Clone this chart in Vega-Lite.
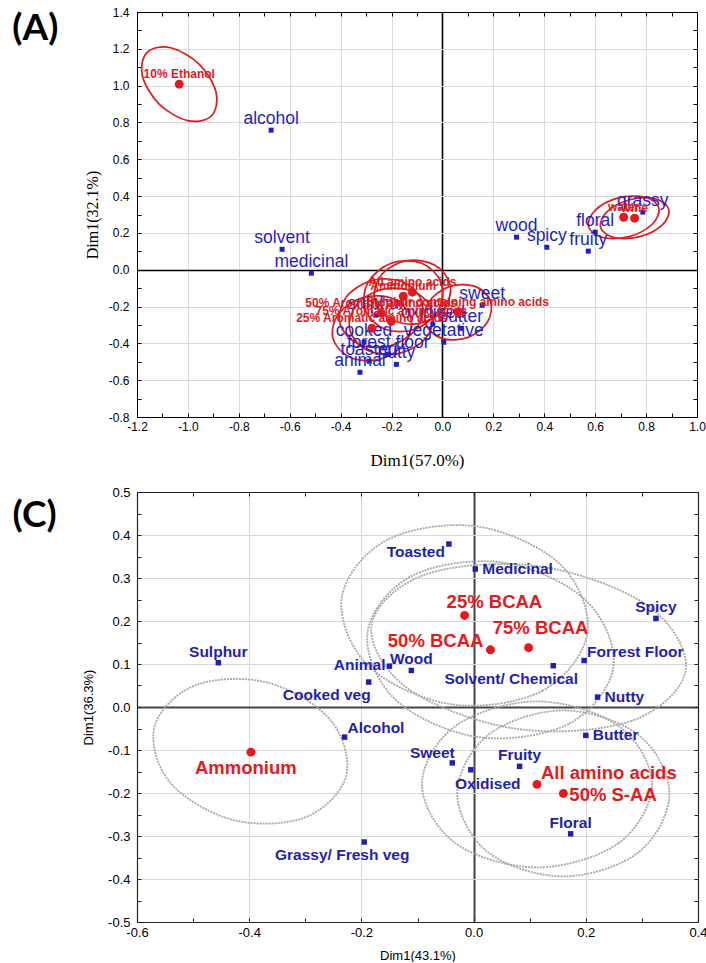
{
  "$schema": "https://vega.github.io/schema/vega-lite/v6.json",
  "background": "white",
  "padding": {"left": 12, "top": 6, "right": 0, "bottom": 0},
  "config": {"view": {"stroke": null}, "font": "Liberation Sans"},
  "datasets": {
    "attrA": [
      {"name": "alcohol", "x": -0.673, "y": 0.758},
      {"name": "solvent", "x": -0.630, "y": 0.111},
      {"name": "medicinal", "x": -0.515, "y": -0.019},
      {"name": "wood", "x": 0.291, "y": 0.177},
      {"name": "spicy", "x": 0.410, "y": 0.122},
      {"name": "fruity", "x": 0.573, "y": 0.101},
      {"name": "floral", "x": 0.600, "y": 0.204},
      {"name": "grassy", "x": 0.787, "y": 0.313},
      {"name": "sweet", "x": 0.156, "y": -0.193},
      {"name": "butter", "x": 0.072, "y": -0.318},
      {"name": "oxidised", "x": -0.038, "y": -0.296},
      {"name": "sulphur", "x": -0.261, "y": -0.247},
      {"name": "cooked", "x": -0.308, "y": -0.394},
      {"name": "vegetative", "x": 0.005, "y": -0.394},
      {"name": "forest floor", "x": -0.213, "y": -0.459},
      {"name": "toasted", "x": -0.288, "y": -0.497},
      {"name": "nutty", "x": -0.181, "y": -0.514},
      {"name": "animal", "x": -0.324, "y": -0.557}
    ],
    "trtA": [
      {"name": "10% Ethanol", "x": -1.034, "y": 1.008},
      {"name": "water", "x": 0.712, "y": 0.285},
      {"name": "wine", "x": 0.755, "y": 0.280},
      {"name": "All amino acids", "x": -0.118, "y": -0.122},
      {"name": "Ammonium", "x": -0.154, "y": -0.144},
      {"name": "50% Aromatic amino acids", "x": -0.241, "y": -0.236},
      {"name": "75% Aromatic amino acids", "x": -0.201, "y": -0.280},
      {"name": "25% Aromatic amino acids", "x": -0.277, "y": -0.318},
      {"name": "Sulphur containing amino acids", "x": 0.061, "y": -0.231}
    ],
    "ellA": [
      {"g": "10% Ethanol", "i": 1, "x": -0.908, "y": 0.835},
      {"g": "10% Ethanol", "i": 2, "x": -1.001, "y": 0.810},
      {"g": "10% Ethanol", "i": 3, "x": -1.113, "y": 0.900},
      {"g": "10% Ethanol", "i": 4, "x": -1.179, "y": 1.054},
      {"g": "10% Ethanol", "i": 5, "x": -1.160, "y": 1.181},
      {"g": "10% Ethanol", "i": 6, "x": -1.068, "y": 1.206},
      {"g": "10% Ethanol", "i": 7, "x": -0.955, "y": 1.116},
      {"g": "10% Ethanol", "i": 8, "x": -0.889, "y": 0.962},
      {"g": "water", "i": 1, "x": 0.850, "y": 0.336},
      {"g": "water", "i": 2, "x": 0.824, "y": 0.247},
      {"g": "water", "i": 3, "x": 0.733, "y": 0.180},
      {"g": "water", "i": 4, "x": 0.629, "y": 0.175},
      {"g": "water", "i": 5, "x": 0.574, "y": 0.234},
      {"g": "water", "i": 6, "x": 0.600, "y": 0.323},
      {"g": "water", "i": 7, "x": 0.691, "y": 0.390},
      {"g": "water", "i": 8, "x": 0.795, "y": 0.395},
      {"g": "wine", "i": 1, "x": 0.889, "y": 0.329},
      {"g": "wine", "i": 2, "x": 0.864, "y": 0.244},
      {"g": "wine", "i": 3, "x": 0.775, "y": 0.180},
      {"g": "wine", "i": 4, "x": 0.674, "y": 0.175},
      {"g": "wine", "i": 5, "x": 0.621, "y": 0.231},
      {"g": "wine", "i": 6, "x": 0.647, "y": 0.316},
      {"g": "wine", "i": 7, "x": 0.736, "y": 0.380},
      {"g": "wine", "i": 8, "x": 0.836, "y": 0.385},
      {"g": "Ammonium", "i": 1, "x": -0.005, "y": -0.070},
      {"g": "Ammonium", "i": 2, "x": -0.015, "y": -0.218},
      {"g": "Ammonium", "i": 3, "x": -0.107, "y": -0.323},
      {"g": "Ammonium", "i": 4, "x": -0.226, "y": -0.323},
      {"g": "Ammonium", "i": 5, "x": -0.303, "y": -0.219},
      {"g": "Ammonium", "i": 6, "x": -0.293, "y": -0.070},
      {"g": "Ammonium", "i": 7, "x": -0.202, "y": 0.035},
      {"g": "Ammonium", "i": 8, "x": -0.082, "y": 0.035},
      {"g": "All amino acids", "i": 1, "x": 0.031, "y": -0.086},
      {"g": "All amino acids", "i": 2, "x": 0.003, "y": -0.218},
      {"g": "All amino acids", "i": 3, "x": -0.096, "y": -0.293},
      {"g": "All amino acids", "i": 4, "x": -0.207, "y": -0.268},
      {"g": "All amino acids", "i": 5, "x": -0.267, "y": -0.158},
      {"g": "All amino acids", "i": 6, "x": -0.239, "y": -0.026},
      {"g": "All amino acids", "i": 7, "x": -0.140, "y": 0.049},
      {"g": "All amino acids", "i": 8, "x": -0.029, "y": 0.024},
      {"g": "50% Aromatic", "i": 1, "x": -0.080, "y": -0.177},
      {"g": "50% Aromatic", "i": 2, "x": -0.103, "y": -0.320},
      {"g": "50% Aromatic", "i": 3, "x": -0.206, "y": -0.414},
      {"g": "50% Aromatic", "i": 4, "x": -0.330, "y": -0.404},
      {"g": "50% Aromatic", "i": 5, "x": -0.402, "y": -0.295},
      {"g": "50% Aromatic", "i": 6, "x": -0.380, "y": -0.152},
      {"g": "50% Aromatic", "i": 7, "x": -0.276, "y": -0.058},
      {"g": "50% Aromatic", "i": 8, "x": -0.152, "y": -0.068},
      {"g": "75% Aromatic", "i": 1, "x": -0.037, "y": -0.240},
      {"g": "75% Aromatic", "i": 2, "x": -0.069, "y": -0.377},
      {"g": "75% Aromatic", "i": 3, "x": -0.178, "y": -0.457},
      {"g": "75% Aromatic", "i": 4, "x": -0.301, "y": -0.433},
      {"g": "75% Aromatic", "i": 5, "x": -0.365, "y": -0.320},
      {"g": "75% Aromatic", "i": 6, "x": -0.333, "y": -0.183},
      {"g": "75% Aromatic", "i": 7, "x": -0.224, "y": -0.103},
      {"g": "75% Aromatic", "i": 8, "x": -0.101, "y": -0.127},
      {"g": "25% Aromatic", "i": 1, "x": -0.124, "y": -0.262},
      {"g": "25% Aromatic", "i": 2, "x": -0.146, "y": -0.397},
      {"g": "25% Aromatic", "i": 3, "x": -0.244, "y": -0.486},
      {"g": "25% Aromatic", "i": 4, "x": -0.362, "y": -0.477},
      {"g": "25% Aromatic", "i": 5, "x": -0.430, "y": -0.374},
      {"g": "25% Aromatic", "i": 6, "x": -0.408, "y": -0.239},
      {"g": "25% Aromatic", "i": 7, "x": -0.310, "y": -0.150},
      {"g": "25% Aromatic", "i": 8, "x": -0.192, "y": -0.159},
      {"g": "Sulphur containing", "i": 1, "x": 0.188, "y": -0.168},
      {"g": "Sulphur containing", "i": 2, "x": 0.177, "y": -0.284},
      {"g": "Sulphur containing", "i": 3, "x": 0.098, "y": -0.369},
      {"g": "Sulphur containing", "i": 4, "x": -0.003, "y": -0.373},
      {"g": "Sulphur containing", "i": 5, "x": -0.066, "y": -0.294},
      {"g": "Sulphur containing", "i": 6, "x": -0.055, "y": -0.178},
      {"g": "Sulphur containing", "i": 7, "x": 0.024, "y": -0.093},
      {"g": "Sulphur containing", "i": 8, "x": 0.125, "y": -0.089}
    ],
    "attrC": [
      {"name": "Toasted", "x": -0.044, "y": 0.379},
      {"name": "Medicinal", "x": 0.003, "y": 0.321},
      {"name": "Spicy", "x": 0.325, "y": 0.206},
      {"name": "Sulphur", "x": -0.455, "y": 0.103},
      {"name": "Animal", "x": -0.150, "y": 0.095},
      {"name": "Wood", "x": -0.111, "y": 0.085},
      {"name": "Solvent/ Chemical", "x": 0.142, "y": 0.096},
      {"name": "Forrest Floor", "x": 0.197, "y": 0.108},
      {"name": "Cooked veg", "x": -0.187, "y": 0.058},
      {"name": "Nutty", "x": 0.221, "y": 0.023},
      {"name": "Alcohol", "x": -0.230, "y": -0.070},
      {"name": "Butter", "x": 0.200, "y": -0.066},
      {"name": "Sweet", "x": -0.038, "y": -0.130},
      {"name": "Fruity", "x": 0.082, "y": -0.138},
      {"name": "Oxidised", "x": -0.005, "y": -0.146},
      {"name": "Floral", "x": 0.173, "y": -0.295},
      {"name": "Grassy/ Fresh veg", "x": -0.195, "y": -0.314}
    ],
    "trtC": [
      {"name": "25% BCAA", "x": -0.016, "y": 0.213},
      {"name": "50% BCAA", "x": 0.030, "y": 0.133},
      {"name": "75% BCAA", "x": 0.098, "y": 0.138},
      {"name": "Ammonium", "x": -0.397, "y": -0.105},
      {"name": "All amino acids", "x": 0.113, "y": -0.180},
      {"name": "50% S-AA", "x": 0.160, "y": -0.201}
    ],
    "ellC": [
      {"g": "Ammonium", "i": 1, "x": -0.227, "y": -0.159},
      {"g": "Ammonium", "i": 2, "x": -0.299, "y": -0.256},
      {"g": "Ammonium", "i": 3, "x": -0.428, "y": -0.263},
      {"g": "Ammonium", "i": 4, "x": -0.540, "y": -0.177},
      {"g": "Ammonium", "i": 5, "x": -0.569, "y": -0.047},
      {"g": "Ammonium", "i": 6, "x": -0.497, "y": 0.050},
      {"g": "Ammonium", "i": 7, "x": -0.368, "y": 0.057},
      {"g": "Ammonium", "i": 8, "x": -0.256, "y": -0.029},
      {"g": "25% BCAA", "i": 1, "x": 0.203, "y": 0.173},
      {"g": "25% BCAA", "i": 2, "x": 0.123, "y": 0.038},
      {"g": "25% BCAA", "i": 3, "x": -0.038, "y": 0.006},
      {"g": "25% BCAA", "i": 4, "x": -0.187, "y": 0.095},
      {"g": "25% BCAA", "i": 5, "x": -0.235, "y": 0.254},
      {"g": "25% BCAA", "i": 6, "x": -0.155, "y": 0.388},
      {"g": "25% BCAA", "i": 7, "x": 0.006, "y": 0.420},
      {"g": "25% BCAA", "i": 8, "x": 0.155, "y": 0.331},
      {"g": "50% BCAA", "i": 1, "x": 0.249, "y": 0.093},
      {"g": "50% BCAA", "i": 2, "x": 0.170, "y": -0.039},
      {"g": "50% BCAA", "i": 3, "x": 0.008, "y": -0.070},
      {"g": "50% BCAA", "i": 4, "x": -0.140, "y": 0.018},
      {"g": "50% BCAA", "i": 5, "x": -0.189, "y": 0.174},
      {"g": "50% BCAA", "i": 6, "x": -0.110, "y": 0.305},
      {"g": "50% BCAA", "i": 7, "x": 0.052, "y": 0.336},
      {"g": "50% BCAA", "i": 8, "x": 0.200, "y": 0.248},
      {"g": "75% BCAA", "i": 1, "x": 0.378, "y": 0.086},
      {"g": "75% BCAA", "i": 2, "x": 0.282, "y": -0.032},
      {"g": "75% BCAA", "i": 3, "x": 0.078, "y": -0.051},
      {"g": "75% BCAA", "i": 4, "x": -0.115, "y": 0.041},
      {"g": "75% BCAA", "i": 5, "x": -0.182, "y": 0.190},
      {"g": "75% BCAA", "i": 6, "x": -0.086, "y": 0.308},
      {"g": "75% BCAA", "i": 7, "x": 0.118, "y": 0.327},
      {"g": "75% BCAA", "i": 8, "x": 0.311, "y": 0.235},
      {"g": "All amino acids", "i": 1, "x": 0.318, "y": -0.180},
      {"g": "All amino acids", "i": 2, "x": 0.258, "y": -0.317},
      {"g": "All amino acids", "i": 3, "x": 0.113, "y": -0.373},
      {"g": "All amino acids", "i": 4, "x": -0.032, "y": -0.317},
      {"g": "All amino acids", "i": 5, "x": -0.092, "y": -0.180},
      {"g": "All amino acids", "i": 6, "x": -0.032, "y": -0.044},
      {"g": "All amino acids", "i": 7, "x": 0.113, "y": 0.013},
      {"g": "All amino acids", "i": 8, "x": 0.258, "y": -0.044},
      {"g": "50% S-AA", "i": 1, "x": 0.349, "y": -0.201},
      {"g": "50% S-AA", "i": 2, "x": 0.294, "y": -0.338},
      {"g": "50% S-AA", "i": 3, "x": 0.160, "y": -0.394},
      {"g": "50% S-AA", "i": 4, "x": 0.026, "y": -0.338},
      {"g": "50% S-AA", "i": 5, "x": -0.029, "y": -0.201},
      {"g": "50% S-AA", "i": 6, "x": 0.026, "y": -0.065},
      {"g": "50% S-AA", "i": 7, "x": 0.160, "y": -0.008},
      {"g": "50% S-AA", "i": 8, "x": 0.294, "y": -0.065}
    ]
  },
  "columns": 1,
  "align": "none",
  "spacing": 18,
  "concat": [
    {
      "width": 560,
      "height": 405,
      "title": {"text": "(A)", "orient": "left", "anchor": "end", "angle": 0, "baseline": "top", "align": "right", "font": "Lato", "fontSize": 37, "fontWeight": "bold", "color": "#000", "offset": -20, "dy": 5},
      "resolve": {"axis": {"x": "independent", "y": "independent"}},
      "layer": [
        {
          "data": {"name": "ellA"},
          "mark": {"type": "line", "interpolate": "cardinal-closed", "color": "#e3191c", "strokeWidth": 1.7},
          "encoding": {
            "x": {"field": "x", "type": "quantitative", "scale": {"domain": [-1.2, 1.0], "nice": false, "zero": false},
              "axis": {"orient": "bottom", "values": [-1.2, -1.1, -1.0, -0.9, -0.8, -0.7, -0.6, -0.5, -0.4, -0.3, -0.2, -0.1, 0, 0.1, 0.2, 0.3, 0.4, 0.5, 0.6, 0.7, 0.8, 0.9, 1.0],
                "labelExpr": "round(datum.value*10) % 2 == 0 ? replace(format(datum.value, '.1f'), '\u2212', '-') : ''",
                "labelOverlap": false, "labelFlush": false, "labelFont": "Liberation Sans", "labelFontSize": 12, "labelColor": "#000", "labelPadding": 8,
                "tickSize": -4, "tickColor": "#000", "domainColor": "#000", "domainWidth": 1,
                "grid": true,
                "gridColor": {"condition": {"test": "abs(datum.value) < 0.001", "value": "#000000"}, "value": "#dadada"},
                "gridWidth": {"condition": {"test": "abs(datum.value) < 0.001", "value": 1.6}, "value": 1},
                "gridOpacity": {"condition": {"test": "round(datum.value*10) % 2 != 0", "value": 0}, "value": 1},
                "title": "Dim1(57.0%)", "titleFont": "Liberation Serif", "titleFontSize": 17, "titleFontWeight": "normal", "titleColor": "#000", "titlePadding": 20}},
            "y": {"field": "y", "type": "quantitative", "scale": {"domain": [-0.8, 1.4], "nice": false, "zero": false},
              "axis": {"orient": "left", "values": [-0.8, -0.7, -0.6, -0.5, -0.4, -0.3, -0.2, -0.1, 0, 0.1, 0.2, 0.3, 0.4, 0.5, 0.6, 0.7, 0.8, 0.9, 1.0, 1.1, 1.2, 1.3, 1.4],
                "labelExpr": "round(datum.value*10) % 2 == 0 ? replace(format(datum.value, '.1f'), '\u2212', '-') : ''",
                "labelOverlap": false, "labelFlush": false, "labelFont": "Liberation Sans", "labelFontSize": 12, "labelColor": "#000", "labelPadding": 12,
                "tickSize": -4, "tickColor": "#000", "domainColor": "#000", "domainWidth": 1,
                "grid": true,
                "gridColor": {"condition": {"test": "abs(datum.value) < 0.001", "value": "#000000"}, "value": "#dadada"},
                "gridWidth": {"condition": {"test": "abs(datum.value) < 0.001", "value": 1.6}, "value": 1},
                "gridOpacity": {"condition": {"test": "round(datum.value*10) % 2 != 0", "value": 0}, "value": 1},
                "title": "Dim1(32.1%)", "titleFont": "Liberation Serif", "titleFontSize": 16, "titleFontWeight": "normal", "titleColor": "#000", "titlePadding": 8}},
            "detail": {"field": "g"},
            "order": {"field": "i", "type": "quantitative"}
          }
        },
        {
          "data": {"name": "attrA"},
          "mark": {"type": "square", "size": 25, "color": "#1f1fc8", "opacity": 1},
          "encoding": {
            "x": {"field": "x", "type": "quantitative",
              "axis": {"orient": "top", "values": [-1.2, -1.1, -1.0, -0.9, -0.8, -0.7, -0.6, -0.5, -0.4, -0.3, -0.2, -0.1, 0, 0.1, 0.2, 0.3, 0.4, 0.5, 0.6, 0.7, 0.8, 0.9, 1.0], "labels": false, "title": null, "grid": false, "tickSize": -4, "tickColor": "#000", "domainColor": "#000", "domainWidth": 1}},
            "y": {"field": "y", "type": "quantitative",
              "axis": {"orient": "right", "values": [-0.8, -0.7, -0.6, -0.5, -0.4, -0.3, -0.2, -0.1, 0, 0.1, 0.2, 0.3, 0.4, 0.5, 0.6, 0.7, 0.8, 0.9, 1.0, 1.1, 1.2, 1.3, 1.4], "labels": false, "title": null, "grid": false, "tickSize": -4, "tickColor": "#000", "domainColor": "#000", "domainWidth": 1}}
          }
        },
        {
          "data": {"name": "attrA"},
          "mark": {"type": "text", "font": "Liberation Sans", "fontSize": 17.5, "color": "#1f1fc8", "align": "center", "dy": -11},
          "encoding": {
            "x": {"field": "x", "type": "quantitative", "axis": null},
            "y": {"field": "y", "type": "quantitative", "axis": null},
            "text": {"field": "name"}
          }
        },
        {
          "data": {"name": "trtA"},
          "mark": {"type": "circle", "size": 80, "color": "#e3191c", "opacity": 1},
          "encoding": {
            "x": {"field": "x", "type": "quantitative", "axis": null},
            "y": {"field": "y", "type": "quantitative", "axis": null}
          }
        },
        {
          "data": {"name": "trtA"},
          "mark": {"type": "text", "font": "Liberation Sans", "fontSize": 12, "fontWeight": "bold", "color": "#e3191c", "align": "center", "dy": -10},
          "encoding": {
            "x": {"field": "x", "type": "quantitative", "axis": null},
            "y": {"field": "y", "type": "quantitative", "axis": null},
            "text": {"field": "name"}
          }
        }
      ]
    },
    {
      "width": 561,
      "height": 430,
      "title": {"text": "(C)", "orient": "left", "anchor": "end", "angle": 0, "baseline": "top", "align": "right", "font": "Lato", "fontSize": 37, "fontWeight": "bold", "color": "#000", "offset": -18, "dy": 12},
      "resolve": {"axis": {"x": "independent", "y": "independent"}},
      "layer": [
        {
          "data": {"name": "ellC"},
          "mark": {"type": "line", "interpolate": "cardinal-closed", "color": "#a8a8a8", "strokeWidth": 1.8, "strokeDash": [2, 1]},
          "encoding": {
            "x": {"field": "x", "type": "quantitative", "scale": {"domain": [-0.6, 0.4], "nice": false, "zero": false},
              "axis": {"orient": "bottom", "values": [-0.6, -0.5, -0.4, -0.3, -0.2, -0.1, 0, 0.1, 0.2, 0.3, 0.4],
                "labelExpr": "round(datum.value*10) % 2 == 0 ? replace(format(datum.value, '.1f'), '\u2212', '-') : ''",
                "labelOverlap": false, "labelFlush": false, "labelFont": "Liberation Sans", "labelFontSize": 13, "labelColor": "#000", "labelPadding": 8,
                "tickSize": -4, "tickColor": "#222", "domainColor": "#222", "domainWidth": 1.2,
                "grid": true,
                "gridColor": {"condition": {"test": "abs(datum.value) < 0.001", "value": "#444444"}, "value": "#d8d8d8"},
                "gridWidth": {"condition": {"test": "abs(datum.value) < 0.001", "value": 2}, "value": 1},
                "gridOpacity": {"condition": {"test": "round(datum.value*10) % 2 != 0", "value": 0}, "value": 1},
                "title": "Dim1(43.1%)", "titleFont": "Liberation Sans", "titleFontSize": 13, "titleFontWeight": "normal", "titleColor": "#000", "titlePadding": 10}},
            "y": {"field": "y", "type": "quantitative", "scale": {"domain": [-0.5, 0.5], "nice": false, "zero": false},
              "axis": {"orient": "left", "values": [-0.5, -0.45, -0.4, -0.35, -0.3, -0.25, -0.2, -0.15, -0.1, -0.05, 0, 0.05, 0.1, 0.15, 0.2, 0.25, 0.3, 0.35, 0.4, 0.45, 0.5],
                "labelExpr": "round(datum.value*20) % 2 == 0 ? replace(format(datum.value, '.1f'), '\u2212', '-') : ''",
                "labelOverlap": false, "labelFlush": false, "labelFont": "Liberation Sans", "labelFontSize": 13, "labelColor": "#000", "labelPadding": 11,
                "tickSize": -4, "tickColor": "#222", "domainColor": "#222", "domainWidth": 1.2,
                "grid": true,
                "gridColor": {"condition": {"test": "abs(datum.value) < 0.001", "value": "#444444"}, "value": "#d8d8d8"},
                "gridWidth": {"condition": {"test": "abs(datum.value) < 0.001", "value": 2}, "value": 1},
                "gridOpacity": {"condition": {"test": "round(datum.value*20) % 2 != 0", "value": 0}, "value": 1},
                "title": "Dim1(36.3%)", "titleFont": "Liberation Sans", "titleFontSize": 13, "titleFontWeight": "normal", "titleColor": "#000", "titlePadding": 12}},
            "detail": {"field": "g"},
            "order": {"field": "i", "type": "quantitative"}
          }
        },
        {
          "data": {"name": "attrC"},
          "mark": {"type": "square", "size": 30, "color": "#1f1fb4", "opacity": 1},
          "encoding": {
            "x": {"field": "x", "type": "quantitative",
              "axis": {"orient": "top", "values": [-0.6, -0.5, -0.4, -0.3, -0.2, -0.1, 0, 0.1, 0.2, 0.3, 0.4], "labels": false, "title": null, "grid": false, "tickSize": -4, "tickColor": "#222", "domainColor": "#222", "domainWidth": 1.2}},
            "y": {"field": "y", "type": "quantitative",
              "axis": {"orient": "right", "values": [-0.5, -0.45, -0.4, -0.35, -0.3, -0.25, -0.2, -0.15, -0.1, -0.05, 0, 0.05, 0.1, 0.15, 0.2, 0.25, 0.3, 0.35, 0.4, 0.45, 0.5], "labels": false, "title": null, "grid": false, "tickSize": -4, "tickColor": "#222", "domainColor": "#222", "domainWidth": 1.2}}
          }
        },
        {
          "data": {"name": "attrC"},
          "transform": [{"filter": {"field": "name", "oneOf": ["Spicy", "Sulphur", "Wood", "Fruity", "Floral"]}}],
          "mark": {"type": "text", "font": "Liberation Sans", "fontSize": 15.5, "fontWeight": "bold", "color": "#1f1fb4", "align": "center", "dy": -11},
          "encoding": {"x": {"field": "x", "type": "quantitative", "axis": null}, "y": {"field": "y", "type": "quantitative", "axis": null}, "text": {"field": "name"}}
        },
        {
          "data": {"name": "attrC"},
          "transform": [{"filter": {"field": "name", "oneOf": ["Medicinal", "Nutty", "Butter"]}}],
          "mark": {"type": "text", "font": "Liberation Sans", "fontSize": 15.5, "fontWeight": "bold", "color": "#1f1fb4", "align": "left", "dx": 7, "dy": 0},
          "encoding": {"x": {"field": "x", "type": "quantitative", "axis": null}, "y": {"field": "y", "type": "quantitative", "axis": null}, "text": {"field": "name"}}
        },
        {
          "data": {"name": "attrC"},
          "transform": [{"filter": {"field": "name", "oneOf": ["Alcohol", "Forrest Floor"]}}],
          "mark": {"type": "text", "font": "Liberation Sans", "fontSize": 15.5, "fontWeight": "bold", "color": "#1f1fb4", "align": "left", "dx": 3, "dy": -9},
          "encoding": {"x": {"field": "x", "type": "quantitative", "axis": null}, "y": {"field": "y", "type": "quantitative", "axis": null}, "text": {"field": "name"}}
        },
        {
          "data": {"name": "attrC"},
          "transform": [{"filter": {"field": "name", "oneOf": ["Animal"]}}],
          "mark": {"type": "text", "font": "Liberation Sans", "fontSize": 15.5, "fontWeight": "bold", "color": "#1f1fb4", "align": "right", "dx": -4, "dy": -1},
          "encoding": {"x": {"field": "x", "type": "quantitative", "axis": null}, "y": {"field": "y", "type": "quantitative", "axis": null}, "text": {"field": "name"}}
        },
        {
          "data": {"name": "attrC"},
          "transform": [{"filter": {"field": "name", "oneOf": ["Toasted"]}}],
          "mark": {"type": "text", "font": "Liberation Sans", "fontSize": 15.5, "fontWeight": "bold", "color": "#1f1fb4", "align": "right", "dx": -4, "dy": 8},
          "encoding": {"x": {"field": "x", "type": "quantitative", "axis": null}, "y": {"field": "y", "type": "quantitative", "axis": null}, "text": {"field": "name"}}
        },
        {
          "data": {"name": "attrC"},
          "transform": [{"filter": {"field": "name", "oneOf": ["Cooked veg", "Solvent/ Chemical"]}}],
          "mark": {"type": "text", "font": "Liberation Sans", "fontSize": 15.5, "fontWeight": "bold", "color": "#1f1fb4", "align": "center", "dx": -42, "dy": 13},
          "encoding": {"x": {"field": "x", "type": "quantitative", "axis": null}, "y": {"field": "y", "type": "quantitative", "axis": null}, "text": {"field": "name"}}
        },
        {
          "data": {"name": "attrC"},
          "transform": [{"filter": {"field": "name", "oneOf": ["Sweet"]}}],
          "mark": {"type": "text", "font": "Liberation Sans", "fontSize": 15.5, "fontWeight": "bold", "color": "#1f1fb4", "align": "center", "dx": -20, "dy": -10},
          "encoding": {"x": {"field": "x", "type": "quantitative", "axis": null}, "y": {"field": "y", "type": "quantitative", "axis": null}, "text": {"field": "name"}}
        },
        {
          "data": {"name": "attrC"},
          "transform": [{"filter": {"field": "name", "oneOf": ["Oxidised"]}}],
          "mark": {"type": "text", "font": "Liberation Sans", "fontSize": 15.5, "fontWeight": "bold", "color": "#1f1fb4", "align": "center", "dx": 17, "dy": 14},
          "encoding": {"x": {"field": "x", "type": "quantitative", "axis": null}, "y": {"field": "y", "type": "quantitative", "axis": null}, "text": {"field": "name"}}
        },
        {
          "data": {"name": "attrC"},
          "transform": [{"filter": {"field": "name", "oneOf": ["Grassy/ Fresh veg"]}}],
          "mark": {"type": "text", "font": "Liberation Sans", "fontSize": 15.5, "fontWeight": "bold", "color": "#1f1fb4", "align": "center", "dx": -22, "dy": 13},
          "encoding": {"x": {"field": "x", "type": "quantitative", "axis": null}, "y": {"field": "y", "type": "quantitative", "axis": null}, "text": {"field": "name"}}
        },
        {
          "data": {"name": "trtC"},
          "mark": {"type": "circle", "size": 80, "color": "#e8191c", "opacity": 1},
          "encoding": {"x": {"field": "x", "type": "quantitative", "axis": null}, "y": {"field": "y", "type": "quantitative", "axis": null}}
        },
        {
          "data": {"name": "trtC"},
          "transform": [{"filter": {"field": "name", "oneOf": ["25% BCAA"]}}],
          "mark": {"type": "text", "font": "Liberation Sans", "fontSize": 18.5, "fontWeight": "bold", "color": "#e8191c", "align": "left", "dx": -18, "dy": -13},
          "encoding": {"x": {"field": "x", "type": "quantitative", "axis": null}, "y": {"field": "y", "type": "quantitative", "axis": null}, "text": {"field": "name"}}
        },
        {
          "data": {"name": "trtC"},
          "transform": [{"filter": {"field": "name", "oneOf": ["75% BCAA"]}}],
          "mark": {"type": "text", "font": "Liberation Sans", "fontSize": 18.5, "fontWeight": "bold", "color": "#e8191c", "align": "center", "dx": 12, "dy": -20},
          "encoding": {"x": {"field": "x", "type": "quantitative", "axis": null}, "y": {"field": "y", "type": "quantitative", "axis": null}, "text": {"field": "name"}}
        },
        {
          "data": {"name": "trtC"},
          "transform": [{"filter": {"field": "name", "oneOf": ["50% BCAA"]}}],
          "mark": {"type": "text", "font": "Liberation Sans", "fontSize": 18.5, "fontWeight": "bold", "color": "#e8191c", "align": "right", "dx": -7, "dy": -9},
          "encoding": {"x": {"field": "x", "type": "quantitative", "axis": null}, "y": {"field": "y", "type": "quantitative", "axis": null}, "text": {"field": "name"}}
        },
        {
          "data": {"name": "trtC"},
          "transform": [{"filter": {"field": "name", "oneOf": ["Ammonium"]}}],
          "mark": {"type": "text", "font": "Liberation Sans", "fontSize": 18.5, "fontWeight": "bold", "color": "#e8191c", "align": "center", "dx": -5, "dy": 16},
          "encoding": {"x": {"field": "x", "type": "quantitative", "axis": null}, "y": {"field": "y", "type": "quantitative", "axis": null}, "text": {"field": "name"}}
        },
        {
          "data": {"name": "trtC"},
          "transform": [{"filter": {"field": "name", "oneOf": ["All amino acids"]}}],
          "mark": {"type": "text", "font": "Liberation Sans", "fontSize": 18.5, "fontWeight": "bold", "color": "#e8191c", "align": "left", "dx": 4, "dy": -11},
          "encoding": {"x": {"field": "x", "type": "quantitative", "axis": null}, "y": {"field": "y", "type": "quantitative", "axis": null}, "text": {"field": "name"}}
        },
        {
          "data": {"name": "trtC"},
          "transform": [{"filter": {"field": "name", "oneOf": ["50% S-AA"]}}],
          "mark": {"type": "text", "font": "Liberation Sans", "fontSize": 18.5, "fontWeight": "bold", "color": "#e8191c", "align": "left", "dx": 6, "dy": 2},
          "encoding": {"x": {"field": "x", "type": "quantitative", "axis": null}, "y": {"field": "y", "type": "quantitative", "axis": null}, "text": {"field": "name"}}
        }
      ]
    }
  ]
}
